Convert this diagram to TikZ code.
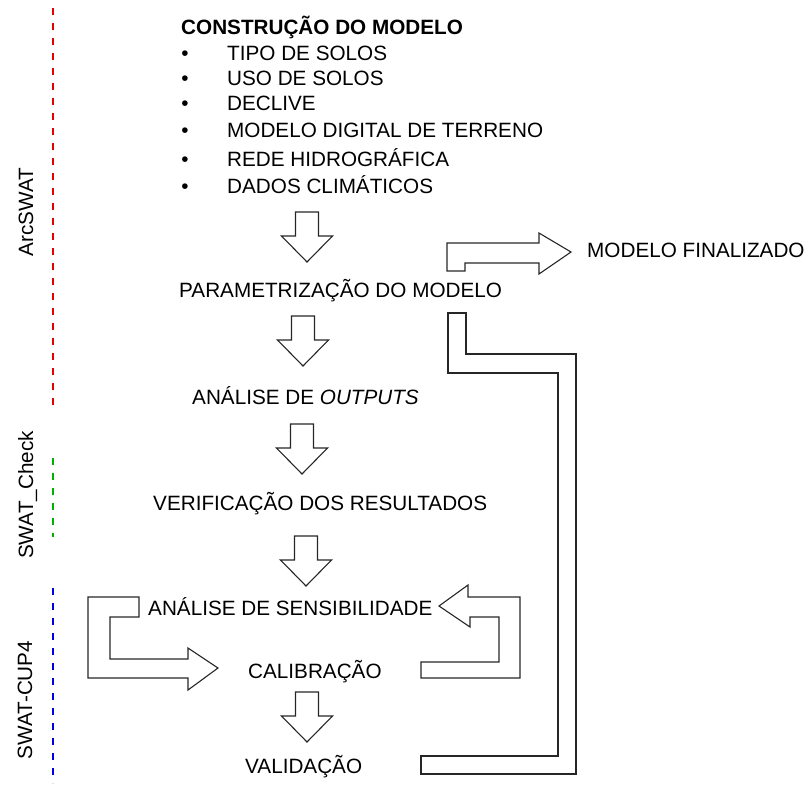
\documentclass[tikz,border=0pt]{standalone}
\usepackage{fontspec}
\setmainfont{Liberation Sans}

\begin{document}
\begin{tikzpicture}[x=1pt,y=-1pt,
    txt/.style={anchor=base west,inner sep=0pt,font=\fontsize{20.7}{24}\selectfont},
    dot/.style={anchor=base,inner sep=0pt,font=\fontsize{20.7}{24}\selectfont},
    lbl/.style={anchor=base,inner sep=0pt,rotate=90,font=\fontsize{20.7}{24}\selectfont},
    blk/.style={draw=black!85,line width=1.1pt,line join=miter},
    sep/.style={line width=1.2pt,dash pattern=on 7pt off 8pt},
    blkdown/.pic={\draw[blk] (-11.5,0) -- (11.5,0) -- (11.5,24) -- (25.5,24) -- (0,50) -- (-25.5,24) -- (-11.5,24) -- cycle;}] %
    \useasboundingbox (0,0) rectangle (808,785);
    % software used in each stage
    \draw[sep,red!90!black] (53,8) -- (53,409);
    \draw[sep,green!70!black] (53,458) -- (53,537);
    \draw[sep,blue!90!black] (53,588) -- (53,783);
    \node[lbl] (arcswat) at (33,212) {ArcSWAT};
    \node[lbl] (check) at (33,495) {SWAT\_Check};
    \node[lbl] (cup) at (32,700) {SWAT-CUP4};
    % model construction
    \node[txt,font=\fontsize{20.7}{24}\selectfont\bfseries] (constr) at (181,34) {CONSTRUÇÃO DO MODELO};
    \node[dot] (b1) at (185,60) {•}; \node[txt] (tipo) at (227,60) {TIPO DE SOLOS};
    \node[dot] (b2) at (185,85) {•}; \node[txt] (uso) at (227,85) {USO DE SOLOS};
    \node[dot] (b3) at (185,110) {•}; \node[txt] (declive) at (227,110) {DECLIVE};
    \node[dot] (b4) at (185,137) {•}; \node[txt] (mdt) at (227,137) {MODELO DIGITAL DE TERRENO};
    \node[dot] (b5) at (185,166) {•}; \node[txt] (rede) at (227,166) {REDE HIDROGRÁFICA};
    \node[dot] (b6) at (185,193) {•}; \node[txt] (clima) at (227,193) {DADOS CLIMÁTICOS};
    % steps
    \node[txt] (param) at (179,297) {PARAMETRIZAÇÃO DO MODELO};
    \node[txt] (final) at (587,257) {MODELO FINALIZADO};
    \node[txt] (outputs) at (192,404) {ANÁLISE DE \textit{OUTPUTS}};
    \node[txt] (verif) at (153,510) {VERIFICAÇÃO DOS RESULTADOS};
    \node[txt] (sens) at (148,615) {ANÁLISE DE SENSIBILIDADE};
    \node[txt] (calib) at (248,678) {CALIBRAÇÃO};
    \node[txt] (valid) at (245,773) {VALIDAÇÃO};
    % block arrows
    \pic at (307,212) {blkdown};
    \pic at (303,316) {blkdown};
    \pic at (302,424) {blkdown};
    \pic at (306,536) {blkdown};
    \pic at (307,692) {blkdown};
    \draw[blk] (447,271) -- (447,243) -- (539,243) -- (539,233) -- (571,252) -- (539,274) -- (539,263) -- (465,263) -- (465,271) -- cycle;
    \draw[blk] (448,313) -- (466,313) -- (466,354) -- (576,354) -- (576,774) -- (421,774) -- (421,756) -- (558,756) -- (558,373) -- (448,373) -- cycle;
    \draw[blk] (439,606) -- (468,585) -- (468,597) -- (520,597) -- (520,678) -- (421,678) -- (421,662) -- (499,662) -- (499,617) -- (470,617) -- (470,627) -- cycle;
    \draw[blk] (139,597) -- (88,597) -- (88,678) -- (188,678) -- (188,690) -- (218,668) -- (188,648) -- (188,659) -- (110,659) -- (110,617) -- (139,617) -- cycle;
  \end{tikzpicture}
\end{document}
